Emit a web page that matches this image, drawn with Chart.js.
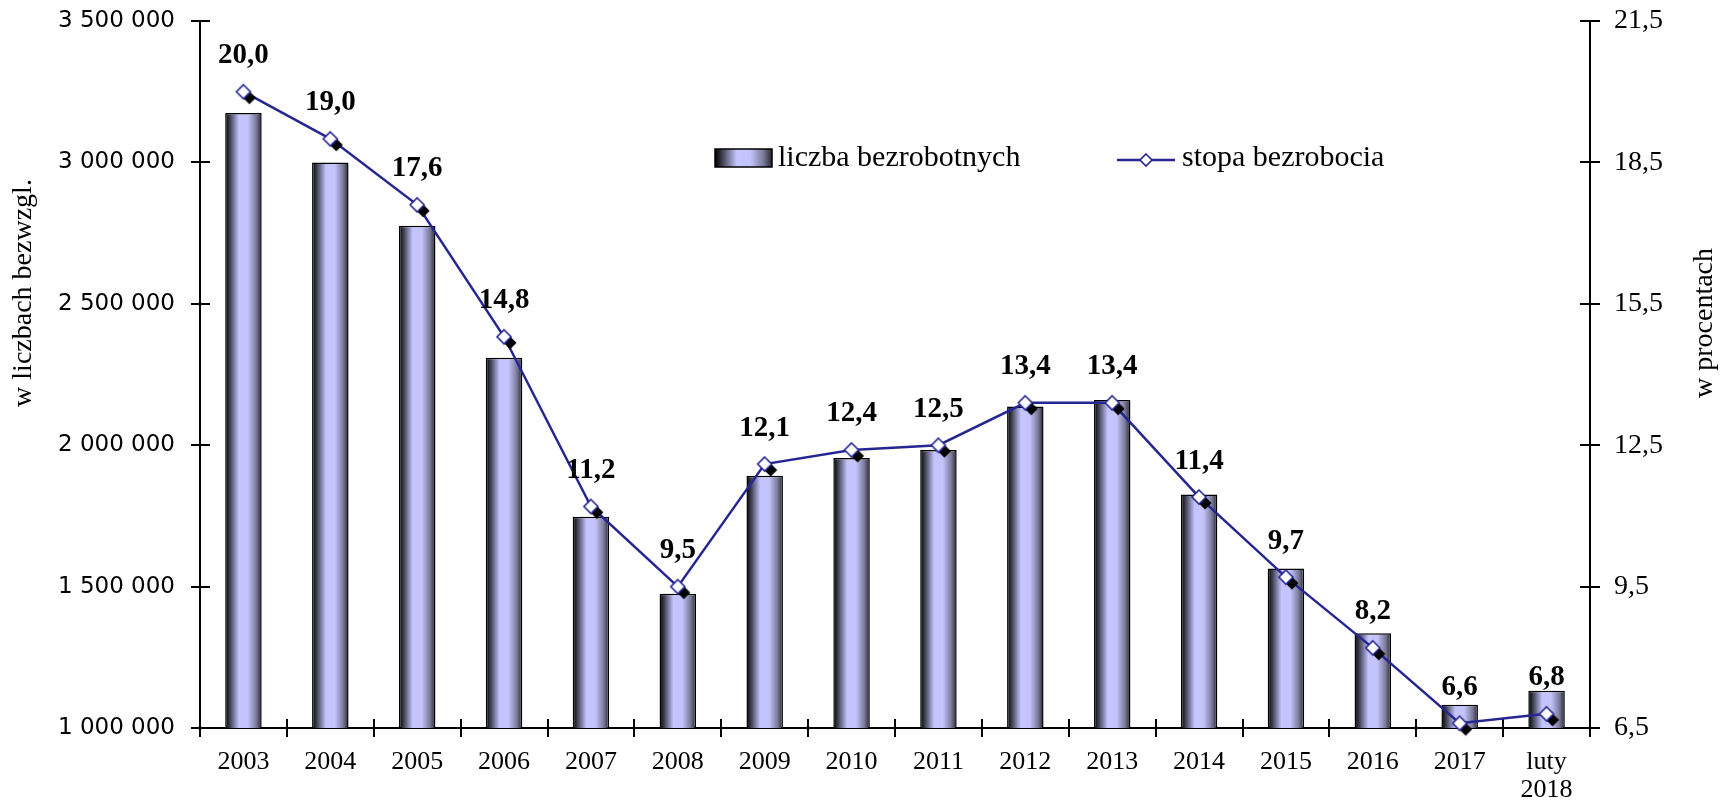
<!DOCTYPE html>
<html lang="pl">
<head>
<meta charset="utf-8">
<title>Bezrobocie 2003-2018</title>
<script src="https://cdn.jsdelivr.net/npm/chart.js@4/dist/chart.umd.min.js"></script>
<style>
  html, body { margin: 0; padding: 0; background: #fff; }
  #wrap { position: relative; width: 1731px; height: 803px; }
</style>
</head>
<body>
<div id="wrap"><canvas id="chart"></canvas></div>
<script>
  // data
  var categories = ['2003', '2004', '2005', '2006', '2007', '2008', '2009', '2010',
    '2011', '2012', '2013', '2014', '2015', '2016', '2017', ['luty', '2018']];
  var unemployed = [3175000, 3000000, 2776000, 2309000, 1747000, 1475000, 1892000, 1955000,
    1983000, 2137000, 2160000, 1826000, 1564000, 1335000, 1082000, 1132000];
  var rate = [20.0, 19.0, 17.6, 14.8, 11.2, 9.5, 12.1, 12.4,
    12.5, 13.4, 13.4, 11.4, 9.7, 8.2, 6.6, 6.8];
  var leftRange = [1000000, 3500000, 500000];
  var rightRange = [6.5, 21.5, 3];

  var NAVY = '#262693';
  var SERIF = '"Liberation Serif", "Times New Roman", serif';
  var BAR_PCT = 0.42;

  function barGradient(ctx, x0, x1) {
    var g = ctx.createLinearGradient(x0, 0, x1, 0);
    g.addColorStop(0, '#000000');
    g.addColorStop(0.12, '#3a3a4a');
    g.addColorStop(0.38, '#c4c4ff');
    g.addColorStop(0.62, '#c4c4fb');
    g.addColorStop(0.85, '#7a7a9a');
    g.addColorStop(1, '#26262e');
    return g;
  }

  function diamond(g, x, y, r) {
    g.beginPath();
    g.moveTo(x, y - r);
    g.lineTo(x + r, y);
    g.lineTo(x, y + r);
    g.lineTo(x - r, y);
    g.closePath();
  }

  // white diamond with a black "shadow" diamond, used as the point style
  function makeMarker() {
    var c = document.createElement('canvas');
    c.width = 36; c.height = 36;
    var g = c.getContext('2d');
    diamond(g, 24, 24, 6.5);
    g.fillStyle = '#000';
    g.fill();
    diamond(g, 18, 18, 7);
    g.fillStyle = '#fff';
    g.fill();
    g.lineWidth = 1.6;
    g.strokeStyle = NAVY;
    g.stroke();
    return c;
  }

  function fmtLeft(v) {
    return String(v).replace(/\B(?=(\d{3})+(?!\d))/g, ' ');
  }
  function fmtRight(v) {
    return v.toFixed(1).replace('.', ',');
  }

  var decor = {
    id: 'decor',
    beforeDatasetsDraw: function (chart) {
      var ctx = chart.ctx, a = chart.chartArea;
      var x = chart.scales.x, y = chart.scales.y, y1 = chart.scales.y1;
      ctx.save();
      ctx.strokeStyle = '#000';
      ctx.lineWidth = 2;
      ctx.beginPath();
      // left axis
      ctx.moveTo(a.left, a.top); ctx.lineTo(a.left, a.bottom + 9);
      y.ticks.forEach(function (t) {
        var py = Math.round(y.getPixelForValue(t.value));
        ctx.moveTo(a.left - 9, py); ctx.lineTo(a.left + 10, py);
      });
      // right axis
      ctx.moveTo(a.right, a.top); ctx.lineTo(a.right, a.bottom + 9);
      y1.ticks.forEach(function (t) {
        var py = Math.round(y1.getPixelForValue(t.value));
        ctx.moveTo(a.right - 10, py); ctx.lineTo(a.right + 10, py);
      });
      // bottom axis
      ctx.moveTo(a.left - 9, a.bottom); ctx.lineTo(a.right + 10, a.bottom);
      for (var i = 0; i <= categories.length; i++) {
        var px = Math.round(x.getPixelForValue(i - 0.5));
        ctx.moveTo(px, a.bottom - 9); ctx.lineTo(px, a.bottom + 9);
      }
      ctx.stroke();
      ctx.restore();
    },
    afterDatasetsDraw: function (chart) {
      var ctx = chart.ctx;
      var meta = chart.getDatasetMeta(0);
      ctx.save();
      // value labels over the rate points
      ctx.fillStyle = '#000';
      ctx.font = 'bold 29px ' + SERIF;
      ctx.textAlign = 'center';
      ctx.textBaseline = 'middle';
      meta.data.forEach(function (pt, i) {
        ctx.fillText(fmtRight(rate[i]), pt.x, pt.y - 36);
      });

      // legend
      ctx.font = '30px ' + SERIF;
      ctx.textAlign = 'left';
      ctx.fillStyle = barGradient(ctx, 715, 772);
      ctx.fillRect(715, 149, 57, 18);
      ctx.lineWidth = 1.5;
      ctx.strokeStyle = '#000';
      ctx.strokeRect(715, 149, 57, 18);
      ctx.fillStyle = '#000';
      ctx.fillText('liczba bezrobotnych', 778, 158);

      ctx.strokeStyle = NAVY;
      ctx.lineWidth = 2.5;
      ctx.beginPath();
      ctx.moveTo(1117, 160); ctx.lineTo(1175, 160);
      ctx.stroke();
      diamond(ctx, 1146, 160, 6);
      ctx.fillStyle = '#fff';
      ctx.fill();
      ctx.lineWidth = 1.6;
      ctx.stroke();
      ctx.fillStyle = '#000';
      ctx.fillText('stopa bezrobocia', 1182, 158);

      // axis titles
      ctx.font = '28px ' + SERIF;
      ctx.textAlign = 'center';
      ctx.save();
      ctx.translate(24, 293);
      ctx.rotate(-Math.PI / 2);
      ctx.fillText('w liczbach bezwzgl.', 0, 0);
      ctx.restore();
      ctx.save();
      ctx.translate(1705, 323);
      ctx.rotate(-Math.PI / 2);
      ctx.fillText('w procentach', 0, 0);
      ctx.restore();
      ctx.restore();
    }
  };

  var marker = makeMarker();

  var ctx = document.getElementById('chart').getContext('2d');
  window.unemploymentChart = new Chart(ctx, {
    data: {
      labels: categories,
      datasets: [
        {
          type: 'line',
          label: 'stopa bezrobocia',
          data: rate,
          yAxisID: 'y1',
          borderColor: NAVY,
          borderWidth: 2.5,
          pointStyle: marker,
          pointRadius: 5,
          tension: 0,
          clip: false,
          order: 0
        },
        {
          type: 'bar',
          label: 'liczba bezrobotnych',
          data: unemployed,
          yAxisID: 'y',
          borderColor: '#000',
          borderWidth: 1.5,
          borderSkipped: 'bottom',
          categoryPercentage: 1,
          barPercentage: BAR_PCT,
          backgroundColor: function (c) {
            var xs = c.chart.scales.x;
            if (!xs || c.type !== 'data') return '#c4c4ff';
            var cx = xs.getPixelForValue(c.dataIndex);
            var w = xs.width / categories.length * BAR_PCT;
            if (!isFinite(cx) || !isFinite(w) || w <= 0) return '#c4c4ff';
            return barGradient(c.chart.ctx, cx - w / 2, cx + w / 2);
          },
          order: 1
        }
      ]
    },
    options: {
      responsive: true,
      maintainAspectRatio: false,
      animation: false,
      events: [],
      layout: { padding: { top: 21, left: 0, right: 0, bottom: 0 } },
      plugins: {
        legend: { display: false },
        tooltip: { enabled: false }
      },
      scales: {
        x: {
          type: 'category',
          offset: true,
          grid: { display: false, drawTicks: false },
          border: { display: false },
          ticks: {
            color: '#000',
            padding: 20,
            maxRotation: 0,
            autoSkip: false,
            font: { family: SERIF, size: 26, lineHeight: 1.08 }
          },
          afterFit: function (s) { s.height = 75; s.paddingLeft = 0; s.paddingRight = 0; }
        },
        y: {
          position: 'left',
          min: leftRange[0],
          max: leftRange[1],
          grid: { display: false, drawTicks: false },
          border: { display: false },
          ticks: {
            stepSize: leftRange[2],
            color: '#000',
            padding: 25,
            font: { family: '"DejaVu Sans", Tahoma, sans-serif', size: 23 },
            callback: fmtLeft
          },
          afterFit: function (s) { s.width = 200; s.paddingTop = 0; s.paddingBottom = 0; }
        },
        y1: {
          position: 'right',
          min: rightRange[0],
          max: rightRange[1],
          grid: { display: false, drawTicks: false },
          border: { display: false },
          ticks: {
            stepSize: rightRange[2],
            color: '#000',
            padding: 24,
            font: { family: SERIF, size: 28 },
            callback: fmtRight
          },
          afterFit: function (s) { s.width = 141; s.paddingTop = 0; s.paddingBottom = 0; }
        }
      }
    },
    plugins: [decor]
  });
</script>
</body>
</html>
